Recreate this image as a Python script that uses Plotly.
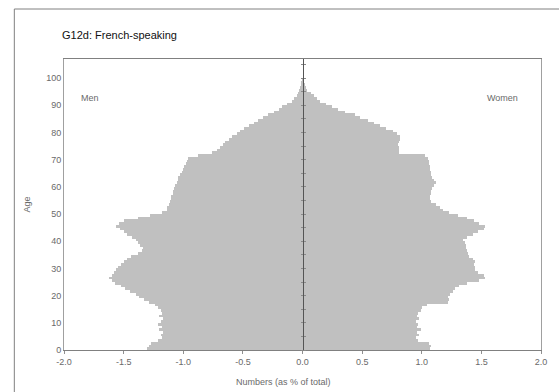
import plotly.graph_objects as go

# Population by single year of age, as % of total population
ages = list(range(0, 100))

men = [
    1.30, 1.29, 1.27, 1.21, 1.18, 1.19, 1.17, 1.20, 1.18, 1.21,  # 0-9
    1.19, 1.17, 1.20, 1.18, 1.19, 1.21, 1.24, 1.29, 1.33, 1.37,  # 10-19
    1.40, 1.45, 1.49, 1.52, 1.57, 1.60, 1.62, 1.60, 1.58, 1.56,  # 20-29
    1.55, 1.52, 1.50, 1.47, 1.44, 1.38, 1.35, 1.34, 1.36, 1.38,  # 30-39
    1.40, 1.43, 1.47, 1.50, 1.53, 1.56, 1.54, 1.50, 1.38, 1.28,  # 40-49
    1.18, 1.14, 1.14, 1.12, 1.11, 1.10, 1.10, 1.09, 1.09, 1.08,  # 50-59
    1.07, 1.05, 1.04, 1.04, 1.03, 1.01, 1.00, 0.99, 0.98, 0.97,  # 60-69
    0.96, 0.88, 0.76, 0.72, 0.69, 0.67, 0.65, 0.62, 0.59, 0.55,  # 70-79
    0.52, 0.49, 0.45, 0.41, 0.37, 0.33, 0.29, 0.24, 0.20, 0.17,  # 80-89
    0.13, 0.09, 0.07, 0.05, 0.04, 0.03, 0.02, 0.01, 0.005, 0.003,  # 90-99
]

women = [
    1.07, 1.08, 1.06, 0.97, 0.95, 0.98, 0.96, 0.99, 0.96, 0.97,  # 0-9
    0.95, 0.98, 0.96, 0.97, 0.99, 1.00, 1.04, 1.22, 1.23, 1.22,  # 10-19
    1.24, 1.26, 1.28, 1.31, 1.38, 1.48, 1.53, 1.52, 1.47, 1.45,  # 20-29
    1.45, 1.44, 1.45, 1.43, 1.40, 1.39, 1.38, 1.37, 1.37, 1.36,  # 30-39
    1.35, 1.38, 1.43, 1.47, 1.52, 1.53, 1.48, 1.44, 1.38, 1.30,  # 40-49
    1.23, 1.18, 1.15, 1.12, 1.08, 1.07, 1.07, 1.08, 1.08, 1.09,  # 50-59
    1.10, 1.12, 1.10, 1.09, 1.08, 1.08, 1.07, 1.07, 1.06, 1.06,  # 60-69
    1.05, 1.03, 0.81, 0.81, 0.81, 0.80, 0.81, 0.82, 0.82, 0.79,  # 70-79
    0.76, 0.70, 0.65, 0.60, 0.55, 0.48, 0.44, 0.36, 0.30, 0.25,  # 80-89
    0.20, 0.15, 0.12, 0.10, 0.07, 0.04, 0.03, 0.02, 0.01, 0.005,  # 90-99
]

x_ticks = [-2.0, -1.5, -1.0, -0.5, 0.0, 0.5, 1.0, 1.5, 2.0]
x_tick_text = ["-2.0", "-1.5", "-1.0", "-0.5", "0.0", "0.5", "1.0", "1.5", "2.0"]
y_ticks = [0, 10, 20, 30, 40, 50, 60, 70, 80, 90, 100]

title_text = "G12d: French-speaking"
x_title = "Numbers (as % of total)"
y_title = "Age"
men_label = "Men"
women_label = "Women"

FONT = "Liberation Sans, Arial, sans-serif"
BAR = "#c0c0c0"
LABEL = "#6a6a6a"
Y_RANGE = [0, 107]

# plot area in pixels: x 64..544, y 59..350 (figure 559 x 392)
PL, PR, PT, PB = 64, 544, 59, 350
PW, PH = PR - PL, PB - PT


def px_x(px):
    return (px - PL) / PW


def px_y(py):
    return (PB - py) / PH


# bars span each single year of age: centre at age + 0.5
y_pos = [a + 0.5 for a in ages]

fig = go.Figure()
fig.add_trace(go.Bar(
    y=y_pos, x=[-v for v in men], orientation="h", width=1,
    marker=dict(color=BAR, line=dict(width=0)), name=men_label,
    hovertemplate="Age %{customdata}: %{x:.2f}%<extra>Men</extra>",
    customdata=ages,
))
fig.add_trace(go.Bar(
    y=y_pos, x=women, orientation="h", width=1,
    marker=dict(color=BAR, line=dict(width=0)), name=women_label,
    hovertemplate="Age %{customdata}: %{x:.2f}%<extra>Women</extra>",
    customdata=ages,
))

# invisible traces that carry the central age axes at x = 0
for ax in ("y2", "y3"):
    fig.add_trace(go.Scatter(x=[0], y=[0], yaxis=ax, mode="markers",
                             marker=dict(opacity=0), showlegend=False,
                             hoverinfo="skip"))

fig.update_layout(
    width=559, height=392,
    margin=dict(l=PL, r=559 - PR, t=PT, b=392 - PB),
    paper_bgcolor="white", plot_bgcolor="white",
    barmode="overlay", bargap=0, showlegend=False,
    font=dict(family=FONT, size=9, color=LABEL),
    xaxis=dict(
        range=[-2.0, 2.0], tickvals=x_ticks, ticktext=x_tick_text,
        showgrid=False, zeroline=False,
        showline=True, linecolor="#808080", linewidth=1, mirror=True,
        ticks="outside", ticklen=3, tickcolor="#909090",
        tickfont=dict(size=9, color=LABEL),
    ),
    yaxis=dict(
        range=Y_RANGE, tickvals=y_ticks,
        showgrid=False, zeroline=False,
        showline=True, linecolor="#a0a0a0", linewidth=1, mirror=True,
        ticks="", tickfont=dict(size=9, color=LABEL),
        title=dict(text=y_title, font=dict(size=9, color=LABEL), standoff=14),
    ),
    yaxis2=dict(
        range=Y_RANGE, overlaying="y", anchor="free", position=0.5,
        dtick=5, tick0=0, showticklabels=False, showgrid=False, zeroline=False,
        showline=True, linecolor="#555555", linewidth=1,
        ticks="outside", ticklen=2, tickcolor="#8a8a8a",
    ),
    yaxis3=dict(
        range=Y_RANGE, overlaying="y", anchor="free", position=0.5, side="right",
        dtick=5, tick0=0, showticklabels=False, showgrid=False, zeroline=False,
        showline=False, ticks="outside", ticklen=2, tickcolor="#8a8a8a",
    ),
    title=dict(
        text=title_text, x=62 / 559, xanchor="left", xref="container",
        y=1 - 35 / 392, yanchor="middle", yref="container",
        font=dict(family=FONT, size=11, color="#111111"),
    ),
)

# x axis title sits a little left of the plot centre
fig.add_annotation(text=x_title, xref="paper", yref="paper",
                   x=px_x(285), y=px_y(382), xanchor="center", yanchor="middle",
                   showarrow=False, font=dict(size=9, color=LABEL))

fig.add_annotation(text=men_label, xref="paper", yref="paper",
                   x=px_x(90), y=px_y(98), xanchor="center", yanchor="middle",
                   showarrow=False, font=dict(size=9, color=LABEL))
fig.add_annotation(text=women_label, xref="paper", yref="paper",
                   x=px_x(505), y=px_y(98), xanchor="center", yanchor="middle",
                   showarrow=False, font=dict(size=9, color=LABEL))

# outer frame of the chart (left and top edges)
fig.add_shape(type="line", xref="paper", yref="paper",
              x0=px_x(14), x1=px_x(14), y0=px_y(400), y1=px_y(9),
              line=dict(color="#808080", width=1))
fig.add_shape(type="line", xref="paper", yref="paper",
              x0=px_x(14), x1=px_x(570), y0=px_y(9), y1=px_y(9),
              line=dict(color="#808080", width=1))

fig.write_html("out.html")
